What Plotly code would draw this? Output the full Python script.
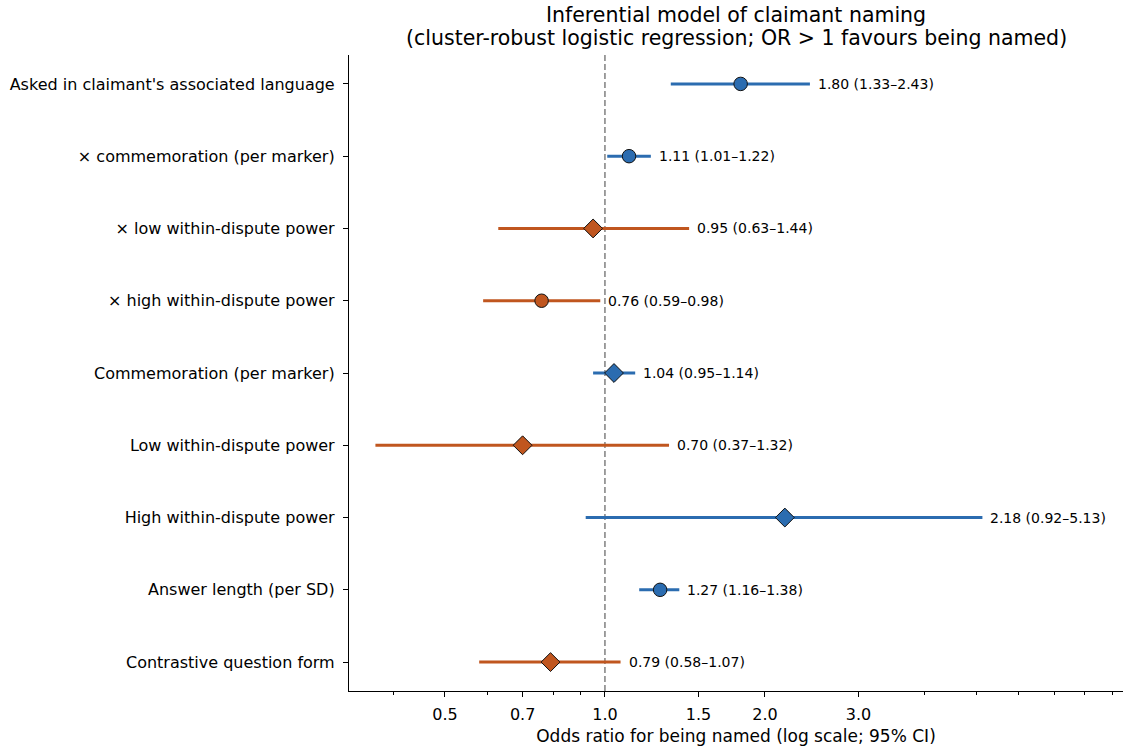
import numpy as np
import plotly.graph_objects as go

labels = [
    "Asked in claimant's associated language",
    "× commemoration (per marker)",
    "× low within-dispute power",
    "× high within-dispute power",
    "Commemoration (per marker)",
    "Low within-dispute power",
    "High within-dispute power",
    "Answer length (per SD)",
    "Contrastive question form",
]
odds_ratio = [1.80, 1.11, 0.95, 0.76, 1.04, 0.70, 2.18, 1.27, 0.79]
ci_low = [1.33, 1.01, 0.63, 0.59, 0.95, 0.37, 0.92, 1.16, 0.58]
ci_high = [2.43, 1.22, 1.44, 0.98, 1.14, 1.32, 5.13, 1.38, 1.07]

major_ticks = [0.5, 0.7, 1.0, 1.5, 2.0, 3.0]
major_text = ["0.5", "0.7", "1.0", "1.5", "2.0", "3.0"]
minor_ticks = [0.4, 0.6, 0.8, 0.9, 4, 5, 6, 7, 8, 9]

title_line1 = "Inferential model of claimant naming"
title_line2 = "(cluster-robust logistic regression; OR > 1 favours being named)"
x_title = "Odds ratio for being named (log scale; 95% CI)"

BLUE = "#2b6cb0"
ORANGE = "#c0561f"
FONT = "DejaVu Sans"

n = len(labels)
ypos = list(range(n))

fig = go.Figure()

# reference line at OR = 1
fig.add_trace(go.Scatter(
    x=[1.0, 1.0], y=[-0.4, n - 1 + 0.4], mode="lines",
    line=dict(color="#808080", width=1.5, dash="6px,3px"),
    hoverinfo="skip", showlegend=False,
))

for i in range(n):
    col = BLUE if odds_ratio[i] > 1 else ORANGE
    sig = ci_low[i] > 1 or ci_high[i] < 1
    fig.add_trace(go.Scatter(
        x=[ci_low[i], ci_high[i]], y=[ypos[i], ypos[i]], mode="lines",
        line=dict(color=col, width=3), showlegend=False, hoverinfo="skip",
    ))
    fig.add_trace(go.Scatter(
        x=[odds_ratio[i]], y=[ypos[i]], mode="markers",
        marker=dict(color=col, symbol="circle" if sig else "diamond",
                    size=13.5 if sig else 14.5,
                    line=dict(color="#111111", width=1)),
        showlegend=False,
    ))
    fig.add_annotation(
        x=np.log10(ci_high[i]), y=ypos[i], xref="x", yref="y",
        text=f"{odds_ratio[i]:.2f} ({ci_low[i]:.2f}–{ci_high[i]:.2f})",
        showarrow=False, xanchor="left", yanchor="middle", xshift=6,
        font=dict(family=FONT, size=14, color="#000000"),
    )

# two-line title as annotations
fig.add_annotation(x=0.5, y=1, xref="paper", yref="paper", text=title_line1,
                   showarrow=False, xanchor="center", yanchor="middle", yshift=40,
                   font=dict(family=FONT, size=20.5, color="#000000"))
fig.add_annotation(x=0.5, y=1, xref="paper", yref="paper", text=title_line2,
                   showarrow=False, xanchor="center", yanchor="middle", yshift=17,
                   font=dict(family=FONT, size=20.5, color="#000000"))

fig.update_layout(
    width=1125, height=751,
    margin=dict(l=349, r=2, t=55, b=60),
    plot_bgcolor="white", paper_bgcolor="white",
    font=dict(family=FONT, color="#000000"),
)

fig.update_xaxes(
    type="log", range=[-0.4815, 0.9746],
    tickmode="array", tickvals=major_ticks, ticktext=major_text,
    ticks="outside", ticklen=5, tickwidth=1.1, tickcolor="#000000",
    ticklabelstandoff=4,
    tickfont=dict(family=FONT, size=16, color="#000000"),
    minor=dict(tickmode="array", tickvals=minor_ticks, ticks="outside",
               ticklen=3, tickwidth=0.9, tickcolor="#000000", showgrid=False),
    showline=True, linecolor="#000000", linewidth=1.2,
    showgrid=False, zeroline=False, mirror=False,
    title=dict(text=x_title,
               font=dict(family=FONT, size=17, color="#000000"), standoff=6),
)

fig.update_yaxes(
    range=[n - 1 + 0.4, -0.4],
    tickmode="array", tickvals=ypos, ticktext=labels,
    ticks="outside", ticklen=5, tickwidth=1.1, tickcolor="#000000",
    ticklabelstandoff=5,
    tickfont=dict(family=FONT, size=16, color="#000000"),
    showline=True, linecolor="#000000", linewidth=1.2,
    showgrid=False, zeroline=False, mirror=False,
)

fig.write_html(
    "out.html",
    config={"displayModeBar": False},
    post_script="document.body.style.margin='0';document.body.style.overflow='hidden';",
)
